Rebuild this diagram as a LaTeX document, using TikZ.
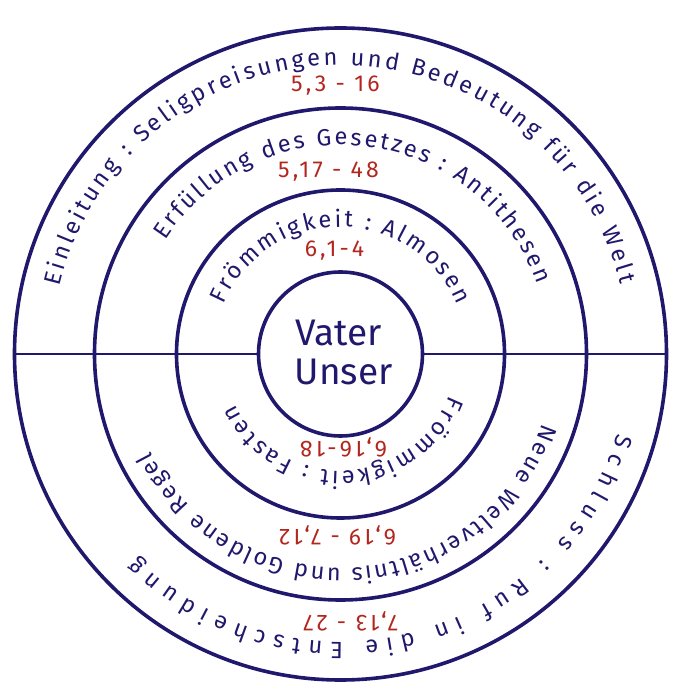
\documentclass[tikz,border=0pt]{standalone}
\usepackage{fontspec}
\setmainfont{Fira Sans}
\usetikzlibrary{decorations.text}

\newcommand{\ringfont}{\fontsize{23.5}{25}\selectfont}

\begin{document}
\begin{tikzpicture}[x=1pt, y=1pt,
  ring/.style={circle, draw=navyMT, line width=3.6pt, inner sep=0pt, minimum size=#1},
  verse/.style={text=redMT, inner sep=0pt, font=\fontsize{23}{25}\selectfont\addfontfeature{LetterSpace=14}},
  verseup/.style={verse, rotate=180},
  arcline/.style={decorate, decoration={text along path, text align=fit to path, text color=navyMT}}]

\definecolor{navyMT}{HTML}{1f186c}
\definecolor{redMT}{HTML}{b3261e}

\useasboundingbox (-340.5,-346) rectangle (339.5,354);

% the four rings
\foreach \r/\n in {82/kern, 164/innen, 246/mitte, 326/aussen} {
 \node[ring=2*\r] (\n) at (0,0) {};
}

\draw[navyMT, line width=1.7pt] (aussen.west) -- (kern.west);
\draw[navyMT, line width=1.7pt] (kern.east) -- (aussen.east);

% centre
\node[text=navyMT, font=\fontsize{37}{40}\selectfont] (vater) at (-2,21) {Vater};
\node[text=navyMT, font=\fontsize{37}{40}\selectfont] (unser) at (3,-18) {Unser};

% upper half
\path[arcline, decoration={text={|\ringfont|Einleitung : Seligpreisungen und Bedeutung für die Welt}}]
  (166.5:289) arc[start angle=166.5, end angle=14, radius=289];
\path[arcline, decoration={text={|\ringfont|Erfüllung des Gesetzes : Antithesen}}]
  (147:209) arc[start angle=147, end angle=19.5, radius=209];
\path[arcline, decoration={text={|\ringfont|Frömmigkeit : Almosen}}]
  (157:127) arc[start angle=157, end angle=22.7, radius=127];

\node[verse] (v1) at (-5,268) {5,3 - 16};
\node[verse] (v2) at (-12,182) {5,17 - 48};
\node[verse] (v3) at (-6,103) {6,1-4};

% lower half
\path[arcline, decoration={text={|\ringfont|Frömmigkeit : Fasten}}]
  (-21:117) arc[start angle=-21, end angle=-154.6, radius=117];
\path[arcline, decoration={text={|\ringfont|Neue Weltverhältnis und Goldene Regel}}]
  (-19:214) arc[start angle=-19, end angle=-153, radius=214];
\path[arcline, decoration={text={|\ringfont|Schluss : Ruf in die Entscheidung}}]
  (-16:288) arc[start angle=-16, end angle=-135, radius=288];

\node[verseup] (v4) at (3,-93) {6,16-18};
\node[verseup] (v5) at (-3,-181) {6,19 - 7,12};
\node[verseup] (v6) at (10,-267) {7,13 - 27};

\end{tikzpicture}
\end{document}
